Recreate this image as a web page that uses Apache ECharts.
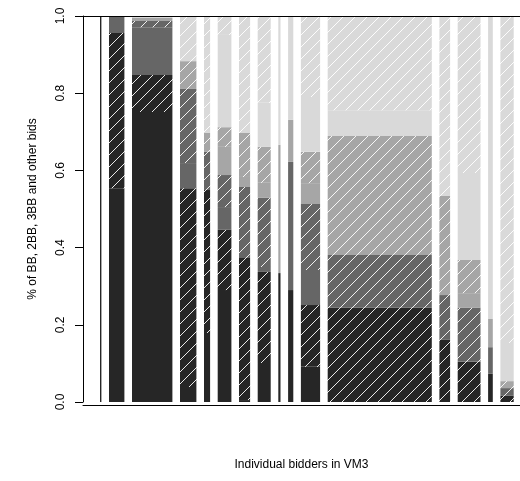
<!DOCTYPE html>
<html>
<head>
<meta charset="utf-8">
<script src="https://cdn.jsdelivr.net/npm/echarts@6/dist/echarts.min.js"></script>
<style>
  html, body { margin: 0; background: #fff; }
  #chart { width: 520px; height: 481px; }
</style>
</head>
<body>
<div id="chart"></div>
<script>
// one entry per bidder, bar widths are relative (share of bids)
var bidders = ['b1', 'b2', 'b3', 'b4', 'b5', 'b6', 'b7', 'b8', 'b9', 'b10', 'b11', 'b12', 'b13', 'b14', 'b15', 'b16'];
var widths = [1.4, 15.4, 40.4, 16.4, 6.1, 13.7, 11.1, 13.0, 2.2, 5.2, 19.2, 104.1, 10.7, 22.8, 4.7, 13.3];

// shares, each bid type split into plain part and hatched part
var bbPlain    = [1.000, 0.554, 0.751, 0.039, 0.179, 0.290, 0.005, 0.101, 0.334, 0.290, 0.091, 0.000, 0.000, 0.000, 0.073, 0.000];
var bbHatch    = [0.000, 0.402, 0.096, 0.515, 0.370, 0.156, 0.368, 0.236, 0.000, 0.000, 0.160, 0.244, 0.161, 0.104, 0.000, 0.016];
var bb2Plain   = [0.000, 0.044, 0.124, 0.065, 0.000, 0.059, 0.000, 0.013, 0.000, 0.332, 0.091, 0.000, 0.000, 0.000, 0.069, 0.000];
var bb2Hatch   = [0.000, 0.000, 0.016, 0.192, 0.099, 0.083, 0.184, 0.179, 0.000, 0.000, 0.171, 0.137, 0.116, 0.140, 0.000, 0.020];
var bb3Plain   = [0.000, 0.000, 0.008, 0.000, 0.000, 0.073, 0.026, 0.039, 0.332, 0.109, 0.054, 0.000, 0.000, 0.038, 0.073, 0.000];
var bb3Hatch   = [0.000, 0.000, 0.000, 0.072, 0.049, 0.051, 0.114, 0.093, 0.000, 0.000, 0.081, 0.308, 0.257, 0.086, 0.000, 0.018];
var otherPlain = [0.000, 0.000, 0.005, 0.000, 0.000, 0.239, 0.000, 0.114, 0.334, 0.269, 0.142, 0.067, 0.000, 0.225, 0.785, 0.099];
var otherHatch = [0.000, 0.000, 0.000, 0.117, 0.303, 0.049, 0.303, 0.225, 0.000, 0.000, 0.210, 0.244, 0.466, 0.407, 0.000, 0.847];

var greys = ['#262626', '#666666', '#a6a6a6', '#d9d9d9'];
var leftPad = 17, gap = 7.6, xMax = 437;

function hatch(bg) {
  var s = 12;
  var c = document.createElement('canvas');
  c.width = s; c.height = s;
  var g = c.getContext('2d');
  g.fillStyle = bg;
  g.fillRect(0, 0, s, s);
  g.strokeStyle = 'rgba(255,255,255,0.9)';
  g.lineWidth = 1;
  g.beginPath();
  g.moveTo(-1, s + 1); g.lineTo(s + 1, -1);
  g.moveTo(-1, 1); g.lineTo(1, -1);
  g.moveTo(s - 1, s + 1); g.lineTo(s + 1, s - 1);
  g.stroke();
  return { image: c, repeat: 'repeat' };
}

var layers = [
  { name: 'BB', vals: bbPlain, fill: greys[0] },
  { name: 'BB hatched', vals: bbHatch, fill: hatch(greys[0]) },
  { name: '2BB', vals: bb2Plain, fill: greys[1] },
  { name: '2BB hatched', vals: bb2Hatch, fill: hatch(greys[1]) },
  { name: '3BB', vals: bb3Plain, fill: greys[2] },
  { name: '3BB hatched', vals: bb3Hatch, fill: hatch(greys[2]) },
  { name: 'other', vals: otherPlain, fill: greys[3] },
  { name: 'other hatched', vals: otherHatch, fill: hatch(greys[3]) }
];

// left edge of every bar
var starts = [];
var x = leftPad;
widths.forEach(function(w) { starts.push(x); x += w + gap; });

var base = bidders.map(function() { return 0; });
var series = layers.map(function(layer) {
  var data = bidders.map(function(b, i) {
    var row = [starts[i], starts[i] + widths[i], base[i], base[i] + layer.vals[i]];
    base[i] += layer.vals[i];
    return row;
  });
  return {
    type: 'custom',
    name: layer.name,
    data: data,
    encode: { x: [0, 1], y: [2, 3] },
    renderItem: function(params, api) {
      if (api.value(3) - api.value(2) <= 0) return null;
      var p0 = api.coord([api.value(0), api.value(3)]);
      var p1 = api.coord([api.value(1), api.value(2)]);
      return {
        type: 'rect',
        shape: { x: p0[0], y: p0[1], width: p1[0] - p0[0], height: p1[1] - p0[1] },
        style: { fill: layer.fill }
      };
    },
    silent: true,
    animation: false
  };
});

var chart = echarts.init(document.getElementById('chart'));
chart.setOption({
  backgroundColor: '#fff',
  animation: false,
  textStyle: { fontFamily: 'Liberation Sans, Arial, sans-serif' },
  grid: { left: 83, right: 0, top: 16, bottom: 79 },
  xAxis: [{
    type: 'value',
    min: 0,
    max: xMax,
    position: 'bottom',
    offset: 3,
    z: 10,
    axisLine: { show: true, onZero: false, lineStyle: { color: '#000', width: 1 } },
    axisTick: { show: false },
    axisLabel: { show: false },
    splitLine: { show: false },
    name: 'Individual bidders in VM3',
    nameLocation: 'middle',
    nameGap: 54,
    nameTextStyle: { fontSize: 12, color: '#000' }
  }, {
    type: 'value',
    min: 0,
    max: xMax,
    position: 'top',
    z: 10,
    axisLine: { show: true, onZero: false, lineStyle: { color: '#000', width: 1 } },
    axisTick: { show: false },
    axisLabel: { show: false },
    splitLine: { show: false }
  }],
  yAxis: {
    type: 'value',
    min: 0,
    max: 1,
    interval: 0.2,
    z: 10,
    axisLine: { show: true, lineStyle: { color: '#000', width: 1 } },
    axisTick: { show: true, length: 8, lineStyle: { color: '#000' } },
    axisLabel: {
      rotate: 90,
      margin: 16,
      fontSize: 12,
      color: '#000',
      formatter: function(v) { return v.toFixed(1); }
    },
    splitLine: { show: false },
    name: '% of BB, 2BB, 3BB and other bids',
    nameLocation: 'middle',
    nameRotate: 90,
    nameGap: 44,
    nameTextStyle: { fontSize: 12, color: '#000' }
  },
  series: series
});
window.addEventListener('resize', function() { chart.resize(); });
</script>
</body>
</html>
